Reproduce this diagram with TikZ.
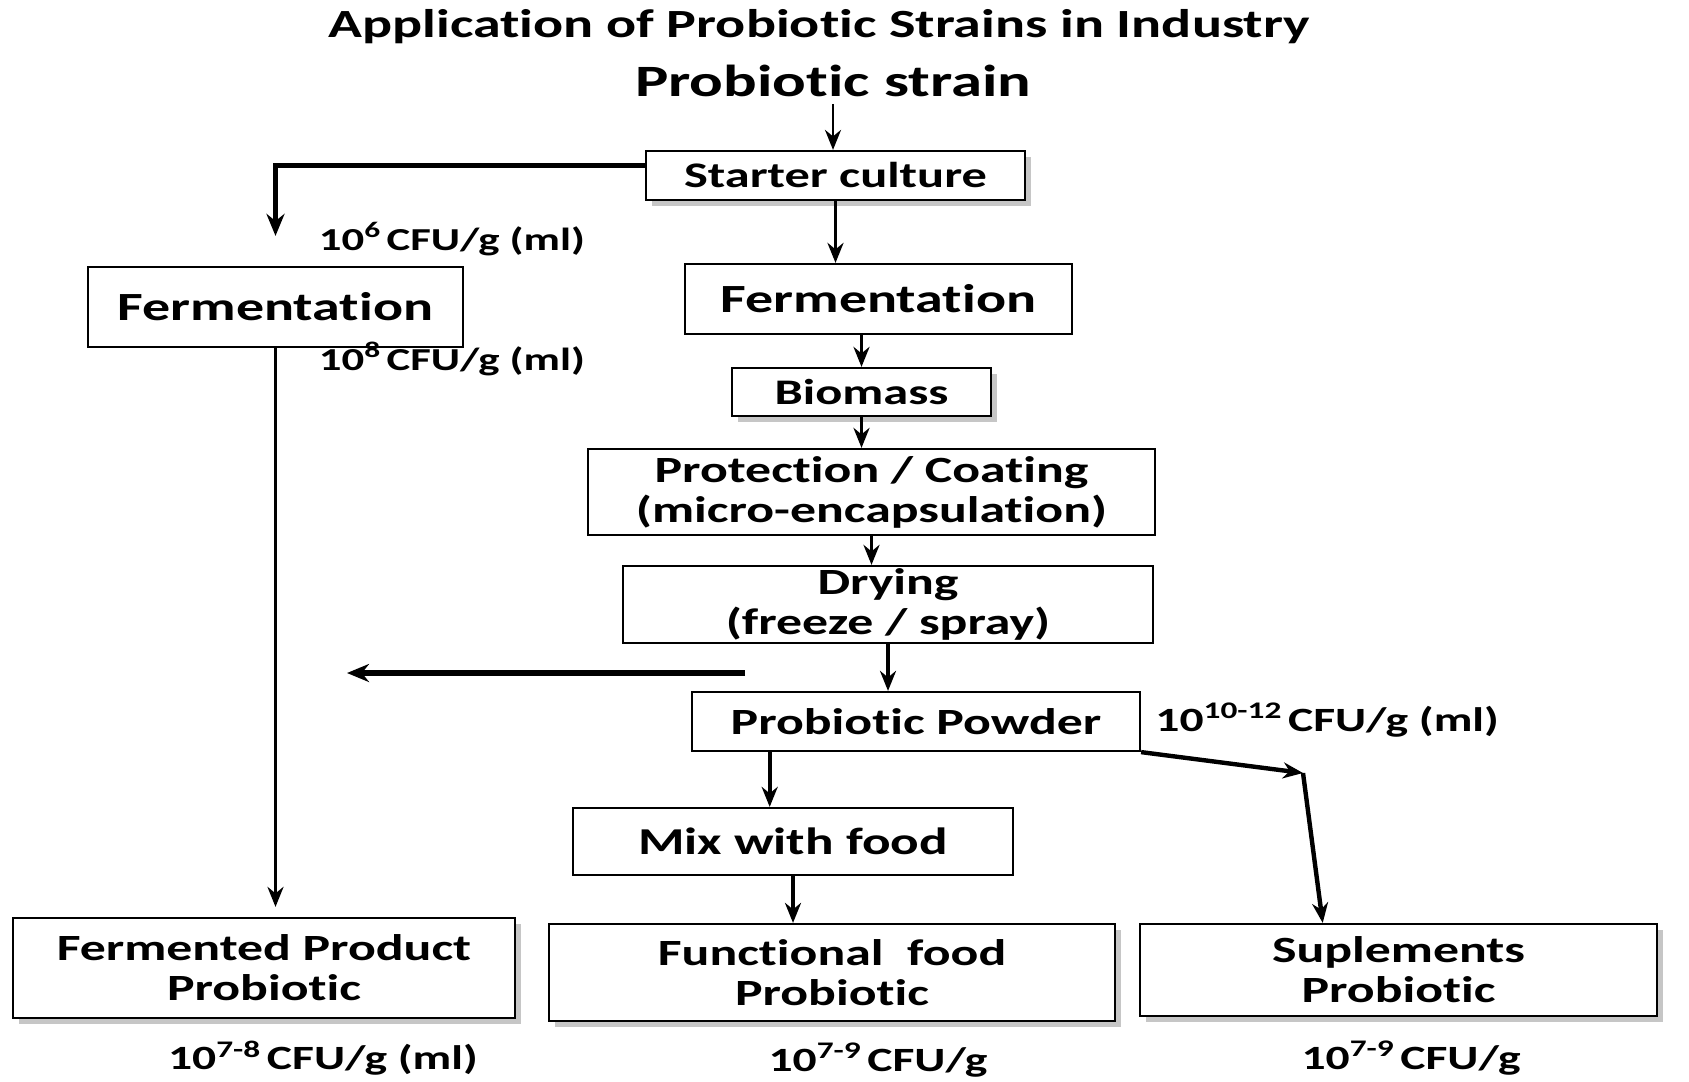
\documentclass[tikz,border=0pt]{standalone}
\usepackage{fontspec}
\setmainfont{Carlito}[FakeStretch=1.4,Ligatures={NoCommon,NoContextual,NoRare},Contextuals=NoAlternate]
\usetikzlibrary{arrows.meta,shadows,calc,positioning}
\begin{document}
\begin{tikzpicture}[x=0.5pt,y=-0.5pt,
    box/.style={draw,fill=white,line width=1.1pt,inner sep=0pt,align=center,font=\bfseries\fontsize{18.5}{20}\selectfont},
    shbox/.style={box,drop shadow={shadow xshift=3pt,shadow yshift=-3pt,opacity=0.45,fill=gray}},
    arr/.style={line width=1.8pt,-{Stealth[length=10pt,width=8pt]}},
    thickarr/.style={arr,line width=2.6pt,-{Stealth[length=11pt,width=9pt]}},
    cfu/.style={inner sep=0pt,font=\bfseries\fontsize{17}{19}\selectfont}]
    \useasboundingbox (0,0) rectangle (1689,1081);

    \node (title) at (819,27) [font=\bfseries\fontsize{20}{24}\selectfont]{Application of Probiotic Strains in Industry};
    \node (strain) at (833,81) [font=\bfseries\fontsize{22.4}{26}\selectfont]{Probiotic strain};

    \node (starter) at (835.5,175.5) [shbox,minimum width=189.5pt,minimum height=24.5pt,font=\bfseries\fontsize{18}{20}\selectfont]{Starter culture};
    \node (fermL) at (275.5,307) [box,minimum width=187.5pt,minimum height=40pt,font=\bfseries\fontsize{20}{22}\selectfont]{Fermentation};
    \node (fermR) at (878.5,299) [box,minimum width=193.5pt,minimum height=35pt,font=\bfseries\fontsize{20}{22}\selectfont]{Fermentation};
    \node (bio) at (861.5,392) [shbox,minimum width=129.5pt,minimum height=24pt,font=\bfseries\fontsize{18}{20}\selectfont]{Biomass};
    \node (prot) at (871.5,492) [box,minimum width=283.5pt,minimum height=43pt]{Protection / Coating\\(micro-encapsulation)};
    \node (dry) at (888,604.5) [box,minimum width=265pt,minimum height=38.5pt]{Drying\\(freeze / spray)};
    \node (powder) at (916,721.5) [box,minimum width=224pt,minimum height=29.5pt]{Probiotic Powder};
    \node (mix) at (793,841.5) [box,minimum width=220pt,minimum height=33.5pt,font=\bfseries\fontsize{19}{21}\selectfont]{Mix with food};

    \node (fermP) at (264,968) [shbox,minimum width=251pt,minimum height=50pt]{Fermented Product\\Probiotic};
    \node (func) at (832,972.5) [shbox,minimum width=283pt,minimum height=48.5pt]{Functional\ \ food\\Probiotic};
    \node (supp) at (1398.5,970) [shbox,minimum width=258.5pt,minimum height=46pt]{Suplements\\Probiotic};

    \node (cfusix) at (452,239) [cfu,font=\bfseries\fontsize{16}{18}\selectfont]{10\textsuperscript{6}\,CFU/g (ml)};
    \node (cfueight) at (452,359) [cfu,font=\bfseries\fontsize{16}{18}\selectfont]{10\textsuperscript{8}\,CFU/g (ml)};
    \node (cfupowder) at (1155,720) [cfu,anchor=west]{10\textsuperscript{10-12}\,CFU/g (ml)};
    \node (cfufermP) at (323,1058) [cfu]{10\textsuperscript{7-8}\,CFU/g (ml)};
    \node (cfufunc) at (878,1060) [cfu]{10\textsuperscript{7-9}\,CFU/g};
    \node (cfusupp) at (1411,1058) [cfu]{10\textsuperscript{7-9}\,CFU/g};

    \draw[arr,line width=1.3pt] (strain.south) -- (strain.south |- starter.north);
    \draw[thickarr,shorten >=15pt] ($(starter.north west)!0.3!(starter.south west)$) -| (fermL.north);
    \draw[arr] (starter.south) -- (starter.south |- fermR.north);
    \draw[arr] (bio.north |- fermR.south) -- (bio.north);
    \draw[arr] (bio.south) -- (bio.south |- prot.north);
    \draw[arr] (prot.south) -- (prot.south |- dry.north);
    \draw[arr] (dry.south) -- (dry.south |- powder.north);

    \coordinate (sidefrom) at (745,673);
    \coordinate (sideto) at (347,673);
    \draw[thickarr] (sidefrom) -- (sideto);

    \draw[arr,shorten >=5pt] (fermL.south) -- (fermL.south |- fermP.north);

    \coordinate (mixin) at ($(powder.south west)!0.175!(powder.south east)$);
    \draw[arr] (mixin) -- (mixin |- mix.north);
    \draw[arr] (mix.south) -- (mix.south |- func.north);

    \coordinate (suppbend) at (1303,773);
    \draw[arr,line width=2.2pt] (powder.south east) -- (suppbend);
    \draw[arr,line width=2.2pt] (suppbend) -- ($(supp.north west)!0.354!(supp.north east)$);

  \end{tikzpicture}
\end{document}
